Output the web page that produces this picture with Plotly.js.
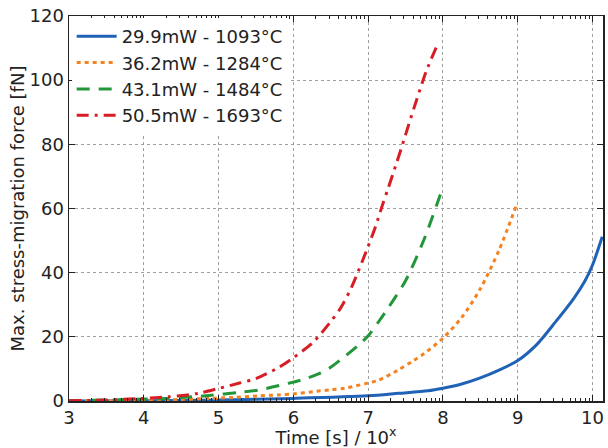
<!DOCTYPE html>
<html><head><meta charset="utf-8">
<script src="https://cdn.plot.ly/plotly-3.0.1.min.js"></script>
<style>html,body{margin:0;padding:0;background:#fff}#c{width:608px;height:448px}</style>
</head><body><div id="c"></div>
<script>
const names = ['29.9mW - 1093°C','36.2mW - 1284°C','43.1mW - 1484°C','50.5mW - 1693°C'];
const colors = ['#2062b5','#f5821f','#22973a','#d81e25'];

const blueX = [3,4,5,6,7,7.41,7.8,8,8.25,8.5,8.75,9,9.25,9.5,9.75,9.9,10.0,10.13];
const blueY = [0,0.1,0.3,0.8,1.6,2.4,3.2,4.0,5.3,7.2,9.6,12.6,17.5,24.5,32,37.5,42.4,51.2];

const orangeX = [3,3.5,4,4.5,4.87,5.2,5.53,5.8,6,6.26,6.5,6.69,6.98,7.14,7.39,7.6,7.75,8,8.25,8.5,8.75,8.99];
const orangeY = [0,0.1,0.2,0.5,0.8,1.1,1.6,1.9,2.2,2.9,3.5,4.0,5.5,6.5,9.5,12.5,14.8,19.6,26,35,47,61.5];

const greenX = [3,3.5,4,4.3,4.65,4.87,5.27,5.53,5.93,6.17,6.35,6.48,6.71,6.87,7.01,7.14,7.25,7.5,7.75,7.99];
const greenY = [0.1,0.3,0.6,0.8,1.3,1.7,2.7,3.4,5.5,7.0,8.6,10.2,14.3,17.4,20.6,24.7,28.4,37.5,50.5,66];

const redX = [3,3.5,4,4.33,4.73,5,5.28,5.5,5.8,6,6.26,6.48,6.63,6.78,6.98,7.1,7.19,7.27,7.37,7.46,7.54,7.65,7.78,7.93];
const redY = [0.1,0.3,0.8,1.3,2.4,3.9,5.6,7,10.4,13.5,18.2,24.2,28.9,35.6,47,54.5,61,66.5,73.5,80,86,94,103,111.2];

const xTicks = [3,4,5,6,7,8,9,10];
const yTicks = [0,20,40,60,80,100,120];

const seriesX = [blueX, orangeX, greenX, redX];
const seriesY = [blueY, orangeY, greenY, redY];
const dashes = ['solid','4px,4px','13px,9px','12px,6px,3px,6px'];

const traces = seriesX.map((xs,i)=>({
  x: xs, y: seriesY[i], name: names[i], type:'scatter', mode:'lines',
  line:{color:colors[i], width:3, dash:dashes[i], shape:'spline', smoothing:0.8}
}));

// log-style minor ticks between integer exponents
const minorVals = [];
for (let d=3; d<=10; d++) for (let k=2; k<=9; k++) { const v=d+Math.log10(k); if (v<10.14) minorVals.push(v); }

const font = {family:'DejaVu Sans, sans-serif', size:18, color:'#222'};
const layout = {
  width:608, height:448,
  margin:{l:69, r:5, t:16, b:47},
  paper_bgcolor:'#fff', plot_bgcolor:'#fff',
  font: font,
  showlegend:true,
  legend:{x:0.005, y:0.995, xanchor:'left', yanchor:'top', bgcolor:'rgba(255,255,255,1)', borderwidth:0,
          font:{family:'DejaVu Sans, sans-serif', size:18, color:'#222'}, tracegroupgap:0, itemwidth:40},
  xaxis:{range:[3,10.14], tickvals:xTicks, ticktext:xTicks.map(String), ticks:'inside', ticklen:6, tickcolor:'#222',
         showline:true, linecolor:'#222', linewidth:1.5, mirror:'allticks',
         showgrid:true, gridcolor:'#a0a0a0', griddash:'dot', gridwidth:1, zeroline:false,
         tickfont:{size:18}, title:{text:'Time [s] / 10<sup>x</sup>', font:{size:18}, standoff:2},
         minor:{tickmode:'array', tickvals:minorVals, ticks:'inside', ticklen:3, tickcolor:'#222', showgrid:false}},
  yaxis:{range:[0,120], tickvals:yTicks, ticks:'inside', ticklen:6, tickcolor:'#222',
         showline:true, linecolor:'#222', linewidth:1.5, mirror:'allticks',
         showgrid:true, gridcolor:'#a0a0a0', griddash:'dot', gridwidth:1, zeroline:false,
         tickfont:{size:18}, title:{text:'Max. stress-migration force [fN]', font:{size:18}, standoff:0}}
};
Plotly.newPlot('c', traces, layout, {staticPlot:true, displayModeBar:false});
</script></body></html>
